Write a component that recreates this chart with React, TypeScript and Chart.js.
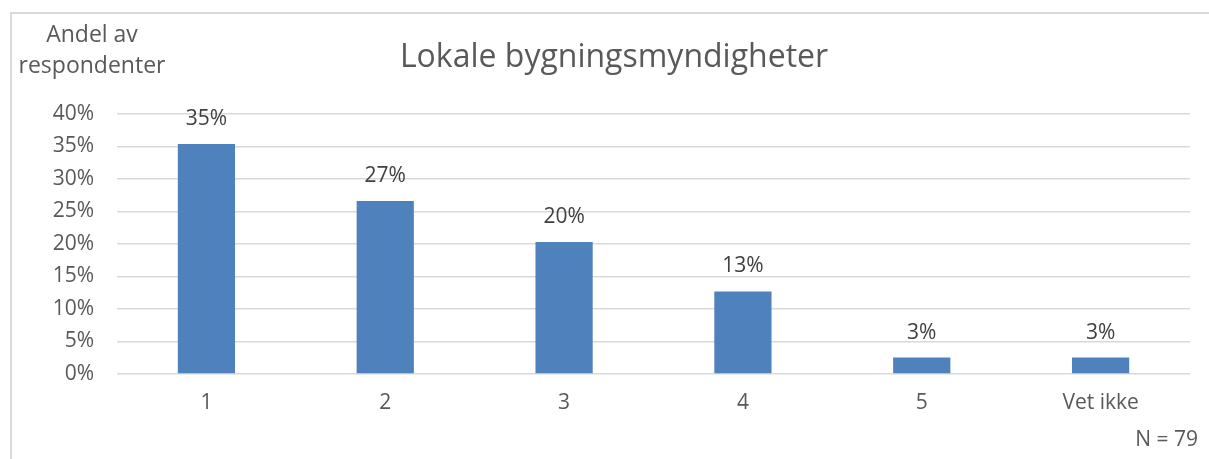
import React, { useEffect, useRef } from "react";
import { Chart, registerables } from "chart.js";

Chart.register(...registerables);

const categories = ["1", "2", "3", "4", "5", "Vet ikke"];
const shares = [35.4, 26.6, 20.3, 12.7, 2.53, 2.53];
const yTicks = [0, 5, 10, 15, 20, 25, 30, 35, 40];
const chartTitle = "Lokale bygningsmyndigheter";
const yTitleLines = ["Andel av", "respondenter"];
const footnote = "N = 79";

const FONT = "'Open Sans', sans-serif";
const TEXT = "#595959";

const textPlugin = {
  id: "texts",
  afterDatasetsDraw(chart: any) {
    const ctx = chart.ctx;
    ctx.save();
    // data labels
    const meta = chart.getDatasetMeta(0);
    ctx.font = `21px ${FONT}`;
    ctx.fillStyle = "#404040";
    ctx.textAlign = "center";
    ctx.textBaseline = "alphabetic";
    meta.data.forEach((bar: any, i: number) => {
      ctx.fillText(Math.round(shares[i]) + "%", bar.x, bar.y - 19);
    });
    // title
    ctx.font = `32px ${FONT}`;
    ctx.fillStyle = TEXT;
    ctx.fillText(chartTitle, 614, 67);
    // y title
    ctx.font = `23px ${FONT}`;
    ctx.fillText(yTitleLines[0], 92, 42);
    ctx.fillText(yTitleLines[1], 92, 73);
    // footnote
    ctx.font = `21px ${FONT}`;
    ctx.textAlign = "right";
    ctx.fillText(footnote, 1198, 446);
    ctx.restore();
  },
};

export default function App() {
  const ref = useRef<HTMLCanvasElement>(null);
  useEffect(() => {
    const chart = new Chart(ref.current!, {
      type: "bar",
      data: {
        labels: categories,
        datasets: [
          {
            data: shares,
            backgroundColor: "#4f81bd",
            categoryPercentage: 1,
            barPercentage: 0.32,
          },
        ],
      },
      options: {
        animation: false,
        responsive: false,
        layout: { padding: { top: 114, right: 19, left: 0, bottom: 0 } },
        plugins: { legend: { display: false }, tooltip: { enabled: false } },
        scales: {
          x: {
            grid: { display: false, drawTicks: false },
            border: { display: false },
            ticks: { color: TEXT, font: { family: FONT, size: 21 }, padding: 16 },
            afterFit: (s: any) => {
              s.height = 85;
            },
          },
          y: {
            min: 0,
            max: 40,
            afterBuildTicks: (s: any) => {
              s.ticks = yTicks.map((v) => ({ value: v }));
            },
            grid: { color: "#d9d9d9", lineWidth: 1.5, drawTicks: false },
            border: { display: false },
            ticks: {
              color: TEXT,
              font: { family: FONT, size: 21 },
              padding: 23,
              callback: (v: any) => v + "%",
            },
            afterFit: (s: any) => {
              s.width = 117;
            },
          },
        },
      },
      plugins: [textPlugin],
    });
    return () => chart.destroy();
  }, []);
  return (
    <div style={{ position: "fixed", left: 0, top: 0, width: 1209, height: 459, background: "#fff", overflow: "hidden" }}>
      <div
        style={{
          position: "absolute",
          left: 10,
          top: 12,
          width: 1300,
          height: 600,
          borderLeft: "2px solid #d9d9d9",
          borderTop: "2px solid #d9d9d9",
        }}
      />
      <canvas ref={ref} width={1209} height={459} style={{ position: "absolute", left: 0, top: 0 }} />
    </div>
  );
}
